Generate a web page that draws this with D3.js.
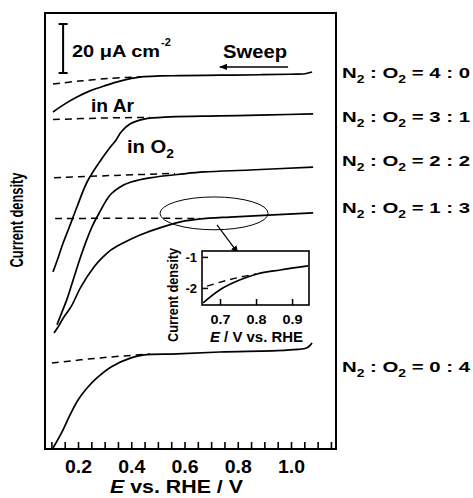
<!DOCTYPE html>
<html>
<head>
<meta charset="utf-8">
<script src="https://cdn.jsdelivr.net/npm/d3@7"></script>
<style>
  body { margin: 0; background: #fff; }
  svg text { font-family: "Liberation Sans", Arial, sans-serif; font-weight: bold; fill: #000; }
</style>
</head>
<body>
<div id="chart-area"></div>
<script>
'use strict';
const svg_width = 473;
const svg_height = 498;

// gas ratios, top curve to bottom curve
const ratio_n2 = ['4', '3', '2', '1', '0'];
const ratio_o2 = ['0', '1', '2', '3', '4'];
const ratio_label_y = [78, 122, 166, 213, 372];
const x_tick_labels = ['0.2', '0.4', '0.6', '0.8', '1.0'];
const inset_x_ticks = [0.7, 0.8, 0.9];
const inset_y_ticks = [-1, -2];

// [E / V vs. RHE, current density / uA cm-2] (curves offset for display)
const solid_40 = [[0.106,-40.4],[0.151,-37.1],[0.196,-34.3],[0.245,-31.8],[0.298,-29.8],[0.358,-27.8],[0.437,-26.1],[0.508,-25.7],[0.583,-25.6],[0.733,-25.4],[0.884,-25.2],[0.996,-25.0],[1.053,-24.8],[1.079,-24.1]];
const dash_40 = [[0.106,-29.0],[0.204,-27.8],[0.32,-26.7],[0.437,-26.1]];
const solid_31 = [[0.106,-105.7],[0.125,-100.0],[0.144,-93.9],[0.166,-87.8],[0.196,-79.2],[0.234,-69.0],[0.286,-60.0],[0.313,-55.9],[0.343,-51.8],[0.362,-48.6],[0.395,-45.3],[0.448,-43.3],[0.546,-42.4],[0.733,-42.0],[0.921,-41.6],[1.083,-41.2]];
const dash_31 = [[0.106,-43.5],[0.283,-42.9],[0.470,-42.6]];
const solid_22 = [[0.121,-127.3],[0.140,-122.0],[0.159,-116.7],[0.177,-110.6],[0.196,-104.1],[0.215,-97.9],[0.234,-92.2],[0.256,-86.5],[0.286,-80.4],[0.305,-76.7],[0.324,-73.9],[0.358,-71.0],[0.399,-69.0],[0.470,-67.3],[0.594,-65.7],[0.673,-64.9],[0.846,-64.1],[1.083,-62.9]];
const dash_22 = [[0.110,-67.3],[0.339,-66.3],[0.564,-65.5]];
const solid_13 = [[0.110,-130.6],[0.125,-128.2],[0.147,-124.1],[0.174,-119.9],[0.211,-111.8],[0.260,-103.7],[0.294,-99.6],[0.324,-96.7],[0.369,-93.9],[0.433,-90.6],[0.519,-87.3],[0.602,-84.9],[0.658,-84.1],[0.771,-83.3],[1.083,-81.6]];
const dash_13 = [[0.114,-83.9],[0.40,-83.8],[0.66,-83.9]];
const solid_04 = [[0.106,-177.6],[0.140,-171.0],[0.170,-164.1],[0.2,-158.0],[0.234,-153.1],[0.271,-149.0],[0.324,-144.5],[0.399,-140.8],[0.448,-139.6],[0.572,-139.2],[0.733,-138.4],[0.985,-137.6],[1.060,-136.7],[1.079,-134.7]];
const dash_04 = [[0.102,-142.9],[0.283,-140.8],[0.470,-139.2]];

// inset: zoom of the 1 : 3 curve
const inset_solid = [[0.653,-2.48],[0.70,-2.06],[0.756,-1.74],[0.803,-1.55],[0.867,-1.42],[0.944,-1.29]];
const inset_dash = [[0.664,-1.94],[0.756,-1.65],[0.80,-1.55]];

const svg = d3.select('#chart-area')
  .append('svg')
    .attr('width', svg_width)
    .attr('height', svg_height);

const defs = svg.append('defs');
defs.append('marker')
    .attr('id', 'head')
    .attr('viewBox', '0 0 10 10')
    .attr('refX', 9).attr('refY', 5)
    .attr('markerWidth', 8).attr('markerHeight', 8)
    .attr('markerUnits', 'userSpaceOnUse')
    .attr('orient', 'auto')
  .append('path')
    .attr('d', 'M0,1 L10,5 L0,9 Z')
    .attr('fill', '#000');

const x_scale = d3.scaleLinear().domain([0.076, 1.169]).range([45, 336]);
const y_scale = d3.scaleLinear().domain([-178, 0]).range([449, 13]);

const line = d3.line()
  .x(d => x_scale(d[0]))
  .y(d => y_scale(d[1]))
  .curve(d3.curveCatmullRom.alpha(0.5));

// text helper: parts = [[string, 'n'|'sub'|'sup'|'it'], ...]
const label = (g, x, y, parts, size, width, anchor) => {
  const t = g.append('text')
    .attr('x', x).attr('y', y)
    .attr('font-size', size)
    .attr('text-anchor', anchor || 'start');
  let shift = 0;
  parts.forEach(p => {
    const s = t.append('tspan').text(p[0]);
    let want = 0;
    if (p[1] === 'sub') { want = size * 0.3; s.attr('font-size', size * 0.68); }
    if (p[1] === 'sup') { want = -size * 0.42; s.attr('font-size', size * 0.68); }
    if (p[1] === 'it') s.attr('font-style', 'italic');
    if (want !== shift) { s.attr('dy', want - shift); shift = want; }
  });
  if (width) t.attr('textLength', width).attr('lengthAdjust', 'spacingAndGlyphs');
  return t;
};

// x axis, ticks inward every 0.05 V
const x_ticks = d3.range(2, 24).map(i => i * 0.05);
const x_axis = d3.axisBottom(x_scale)
  .tickValues(x_ticks)
  .tickSizeInner(-7)
  .tickSizeOuter(0)
  .tickPadding(11)
  .tickFormat(d => {
    const k = Math.round(d / 0.05);
    return k % 4 === 0 ? x_tick_labels[k / 4 - 1] : '';
  });

const gx = svg.append('g')
  .attr('transform', `translate(0,${y_scale.range()[0]})`)
  .call(x_axis);
gx.select('.domain').remove();
gx.selectAll('line').attr('stroke-width', 1.6);
gx.selectAll('text')
  .attr('font-size', 18)
  .attr('font-family', null)
  .each(function() { if (this.textContent) d3.select(this).attr('textLength', 27).attr('lengthAdjust', 'spacingAndGlyphs'); });

// curves
const solids = [solid_40, solid_31, solid_22, solid_13, solid_04];
const dashes = [dash_40, dash_31, dash_22, dash_13, dash_04];

svg.selectAll('path.dash').data(dashes).enter()
  .append('path')
    .attr('class', 'dash')
    .attr('d', line)
    .attr('fill', 'none')
    .attr('stroke', '#000')
    .attr('stroke-width', 1.5)
    .attr('stroke-dasharray', '7,5');

svg.selectAll('path.solid').data(solids).enter()
  .append('path')
    .attr('class', 'solid')
    .attr('d', line)
    .attr('fill', 'none')
    .attr('stroke', '#000')
    .attr('stroke-width', 1.7);

// frame
svg.append('rect')
  .attr('x', x_scale.range()[0]).attr('y', y_scale.range()[1])
  .attr('width', x_scale.range()[1] - x_scale.range()[0])
  .attr('height', y_scale.range()[0] - y_scale.range()[1])
  .attr('fill', 'none')
  .attr('stroke', '#000')
  .attr('stroke-width', 2);

// scale bar 20 uA cm-2
const bx = x_scale(0.144);
const by0 = y_scale(-4.5), by1 = y_scale(-24.5);
svg.append('path')
  .attr('d', `M${bx},${by0}V${by1}M${bx - 4.5},${by0}H${bx + 4.5}M${bx - 4.5},${by1}H${bx + 4.5}`)
  .attr('stroke', '#000')
  .attr('stroke-width', 2)
  .attr('fill', 'none');
label(svg, 72, 57, [['20 \u03bcA cm', 'n']], 17, 88);
label(svg, 161, 46, [['-2', 'n']], 11);

// sweep arrow
label(svg, 223, 58, [['Sweep', 'n']], 18, 64);
svg.append('line')
  .attr('x1', x_scale(0.989)).attr('y1', y_scale(-22))
  .attr('x2', x_scale(0.733)).attr('y2', y_scale(-22))
  .attr('stroke', '#000').attr('stroke-width', 1.5)
  .attr('marker-end', 'url(#head)');

label(svg, 91, 112, [['in Ar', 'n']], 18, 43);
label(svg, 127, 153, [['in O', 'n'], ['2', 'sub']], 18, 47);

// ratio labels
ratio_n2.forEach((a, i) => {
  label(svg, 342, ratio_label_y[i],
    [['N', 'n'], ['2', 'sub'], [' : O', 'n'], ['2', 'sub'], [` = ${a} : ${ratio_o2[i]}`, 'n']],
    15.5, 128);
});

// ellipse marking the zoomed region
const ec = [0.711, -81.8];
svg.append('ellipse')
  .attr('cx', x_scale(ec[0])).attr('cy', y_scale(ec[1]))
  .attr('rx', x_scale(ec[0] + 0.203) - x_scale(ec[0]))
  .attr('ry', y_scale(ec[1] - 6.7) - y_scale(ec[1]))
  .attr('fill', 'none').attr('stroke', '#000').attr('stroke-width', 1);
svg.append('line')
  .attr('x1', x_scale(0.722)).attr('y1', y_scale(-86.5))
  .attr('x2', x_scale(0.801)).attr('y2', y_scale(-98.0))
  .attr('stroke', '#000').attr('stroke-width', 1.2)
  .attr('marker-end', 'url(#head)');

// axis titles
label(svg, 110, 493, [['E', 'it'], [' vs. RHE / V', 'n']], 18, 133);
label(svg, 0, 0, [['Current density', 'n']], 18.5, 95, 'middle')
  .attr('transform', 'translate(23,220) rotate(-90)');

// inset
const ix = d3.scaleLinear().domain([0.65, 0.947]).range([202, 309]);
const iy = d3.scaleLinear().domain([-2.55, -0.81]).range([305, 251]);
const iline = d3.line().x(d => ix(d[0])).y(d => iy(d[1])).curve(d3.curveMonotoneX);

const inset = svg.append('g');
inset.append('rect')
  .attr('x', 202).attr('y', 251).attr('width', 107).attr('height', 54)
  .attr('fill', '#fff');
inset.append('path').datum(inset_dash)
  .attr('d', iline).attr('fill', 'none').attr('stroke', '#000')
  .attr('stroke-width', 1.4).attr('stroke-dasharray', '7,5');
inset.append('path').datum(inset_solid)
  .attr('d', iline).attr('fill', 'none').attr('stroke', '#000')
  .attr('stroke-width', 1.6);

const ixg = inset.append('g').attr('transform', 'translate(0,305)')
  .call(d3.axisBottom(ix).tickValues(inset_x_ticks).tickSizeInner(-6).tickSizeOuter(0).tickPadding(10).tickFormat(d3.format('.1f')));
const iyg = inset.append('g').attr('transform', 'translate(202,0)')
  .call(d3.axisLeft(iy).tickValues(inset_y_ticks).tickSizeInner(-6).tickSizeOuter(0).tickPadding(5).tickFormat(d => String(d)));
[ixg, iyg].forEach(g => {
  g.select('.domain').remove();
  g.selectAll('line').attr('stroke-width', 1.5);
  g.selectAll('text').attr('font-size', 13).attr('font-family', null);
});
ixg.selectAll('text').attr('textLength', 20).attr('lengthAdjust', 'spacingAndGlyphs');
inset.append('rect')
  .attr('x', 202).attr('y', 251).attr('width', 107).attr('height', 54)
  .attr('fill', 'none').attr('stroke', '#000').attr('stroke-width', 1.6);

label(inset, 210, 342, [['E', 'it'], [' / V vs. RHE', 'n']], 14, 93);
label(inset, 0, 0, [['Current density', 'n']], 14, 94, 'middle')
  .attr('transform', 'translate(178,295) rotate(-90)');
</script>
</body>
</html>
